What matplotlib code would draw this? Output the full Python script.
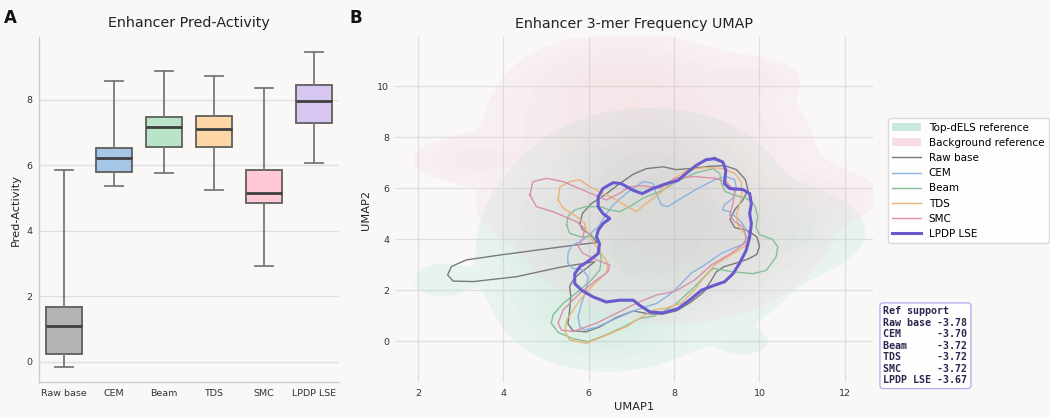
import numpy as np
import matplotlib
matplotlib.use("Agg")
import matplotlib.pyplot as plt
from matplotlib.colors import to_rgb
from matplotlib.patches import Patch
from matplotlib.lines import Line2D

plt.rcParams.update({"font.family": "DejaVu Sans"})

# ---------- data ----------
METHODS = ["Raw base", "CEM", "Beam", "TDS", "SMC", "LPDP LSE"]
BOX_FILL = ["#b4b4b4", "#a6c6e8", "#b8e4c8", "#fcd6a5", "#ffc8d4", "#d6c6f0"]
WHIS_LO = [-0.14, 5.36, 5.75, 5.24, 2.93, 6.07]
Q1 = [0.23, 5.80, 6.57, 6.57, 4.85, 7.30]
MED = [1.10, 6.23, 7.18, 7.11, 5.15, 7.97]
Q3 = [1.68, 6.53, 7.47, 7.50, 5.84, 8.46]
WHIS_HI = [5.85, 8.58, 8.88, 8.73, 8.36, 9.44]

REF_SUPPORT = [-3.78, -3.70, -3.72, -3.72, -3.72, -3.67]

# KDE fills: gaussian components (centre x, centre y, sd x, sd y, weight)
TOP_CX = [7.6, 6.4, 5.0, 10.6, 7.4, 2.55, 9.65]
TOP_CY = [3.8, 1.0, 3.5, 4.3, 6.6, 2.4, -0.05]
TOP_SX = [1.4, 0.9, 0.75, 0.9, 1.2, 0.4, 0.33]
TOP_SY = [1.6, 0.9, 1.5, 0.8, 1.1, 0.4, 0.28]
TOP_W = [1.0, 0.7, 0.35, 0.35, 0.55, 0.14, 0.12]

BG_CX = [8.0, 7.2, 6.8, 3.2, 4.6, 11.3, 9.9]
BG_CY = [5.0, 8.5, 10.3, 7.1, 5.3, 5.7, 10.3]
BG_SX = [1.5, 1.6, 1.1, 0.75, 0.7, 0.8, 0.55]
BG_SY = [1.7, 1.3, 0.8, 0.5, 0.7, 0.55, 0.45]
BG_W = [1.0, 0.55, 0.35, 0.18, 0.15, 0.2, 0.15]

# contour outlines of each method (UMAP1, UMAP2)
RAW_X = [5.79, 5.85, 6.06, 6.37, 6.72, 7.04, 7.35, 7.74, 8.05, 8.36, 8.83, 9.18, 9.46, 9.67,
         9.73, 9.61, 9.42, 9.31, 9.42, 9.73, 9.94, 10.00, 9.94, 9.73, 9.42, 9.16, 8.99, 8.85,
         8.69, 8.40, 8.05, 7.70, 7.39, 7.04, 6.64, 6.25, 5.94, 5.63, 5.51, 5.55, 5.58, 5.55,
         5.67, 5.88, 6.14, 5.32, 4.30, 3.29, 2.82, 2.69, 2.78, 3.13, 3.91, 5.71, 6.18, 6.06, 5.85]
RAW_Y = [4.61, 5.01, 5.40, 5.73, 6.18, 6.55, 6.77, 6.84, 6.73, 6.77, 6.86, 6.89, 6.73, 6.34,
         5.92, 5.53, 5.16, 4.77, 4.46, 4.33, 4.09, 3.73, 3.41, 3.22, 3.05, 2.92, 2.72, 2.33,
         1.93, 1.54, 1.19, 1.06, 1.08, 1.19, 0.93, 0.56, 0.37, 0.41, 0.69, 1.22, 1.74, 2.16,
         2.50, 2.78, 3.12, 2.90, 2.53, 2.34, 2.36, 2.60, 2.93, 3.19, 3.38, 3.78, 3.87, 4.16, 4.38]

CEM_X = [5.51, 5.51, 5.60, 5.86, 6.22, 6.37, 6.57, 6.88, 7.27, 7.50, 7.58, 7.70, 7.85, 8.17,
         8.56, 8.95, 9.22, 9.42, 9.46, 9.38, 9.18, 9.14, 9.30, 9.57, 9.77, 9.60, 9.11, 8.71,
         8.40, 8.17, 7.93, 7.60, 7.11, 6.57, 6.18, 5.90, 5.79, 5.75, 5.83, 5.94, 5.98, 5.86, 5.63]
CEM_Y = [3.06, 3.45, 3.75, 3.97, 4.49, 4.89, 5.35, 5.80, 6.26, 6.20, 5.80, 5.35, 5.28, 5.61,
         6.00, 6.33, 6.46, 6.33, 6.00, 5.61, 5.35, 5.15, 5.08, 4.69, 4.17, 3.80, 3.45, 2.99,
         2.67, 2.27, 1.88, 1.49, 1.23, 0.84, 0.55, 0.44, 0.57, 0.96, 1.49, 2.01, 2.53, 2.80, 2.86]

BEAM_X = [5.48, 5.51, 5.67, 5.94, 6.26, 6.49, 6.72, 6.96, 7.27, 7.66, 8.10, 8.50, 8.91, 9.07,
          9.11, 9.19, 9.38, 9.70, 9.88, 9.96, 9.92, 10.00, 10.30, 10.43, 10.39, 10.16, 9.85,
          9.34, 8.91, 8.79, 8.40, 8.01, 7.54, 7.19, 6.80, 6.33, 5.98, 5.63, 5.28, 5.12, 5.16,
          5.40, 5.79, 6.06, 6.26, 6.29, 6.26, 6.22, 6.10, 5.79, 5.55]
BEAM_Y = [4.56, 4.89, 5.15, 5.28, 5.28, 5.15, 5.08, 5.28, 5.61, 5.87, 6.30, 6.60, 6.77, 6.58,
          6.20, 5.88, 5.75, 5.60, 5.36, 4.90, 4.47, 4.18, 4.00, 3.70, 3.31, 2.78, 2.65,
          2.73, 2.86, 2.67, 2.01, 1.42, 0.99, 0.89, 0.55, 0.20, -0.02, 0.10, 0.35, 0.71, 1.03,
          1.49, 2.01, 2.40, 2.80, 3.19, 3.58, 3.91, 4.10, 4.10, 4.24]

TDS_X = [5.28, 5.32, 5.55, 5.79, 6.02, 6.57, 7.11, 7.35, 7.72, 8.01, 8.32, 8.71, 9.11, 9.42,
         9.57, 9.59, 9.53, 9.46, 9.49, 9.65, 9.72, 9.50, 9.26, 8.95, 8.71, 8.48, 8.17, 7.78,
         7.54, 7.20, 6.88, 6.33, 5.94, 5.55, 5.44, 5.48, 5.79, 6.14, 6.41, 6.45, 6.29, 6.10,
         5.94, 5.90, 5.71, 5.40]
TDS_Y = [5.54, 6.06, 6.26, 6.33, 6.06, 5.61, 5.08, 5.41, 5.87, 6.39, 6.72, 6.81, 6.78, 6.59,
         6.26, 5.74, 5.35, 4.95, 4.56, 4.24, 3.80, 3.55, 3.32, 2.99, 2.53, 2.01, 1.49, 1.29,
         1.23, 0.92, 0.57, 0.18, -0.08, 0.05, 0.38, 0.84, 1.62, 2.27, 2.67, 3.06, 3.45, 3.90,
         4.36, 4.63, 4.89, 5.22]

SMC_X = [4.62, 4.69, 5.01, 5.40, 5.86, 6.41, 6.72, 6.96, 7.27, 7.66, 8.01, 8.48, 8.95, 9.22,
         9.42, 9.38, 9.30, 9.42, 9.61, 9.69, 9.66, 9.34, 8.87, 8.48, 8.01, 7.60, 7.19, 6.65,
         6.18, 5.63, 5.36, 5.28, 5.40, 5.79, 6.18, 6.45, 6.49, 6.18, 5.86, 5.75, 5.86, 5.90,
         5.71, 5.16, 4.77]
SMC_Y = [5.74, 6.26, 6.39, 6.26, 5.93, 5.54, 5.80, 6.06, 6.10, 6.00, 6.39, 6.46, 6.39, 6.26,
         5.87, 5.41, 4.95, 4.69, 4.49, 4.10, 3.85, 3.45, 2.99, 2.40, 1.95, 1.82, 1.55, 1.10,
         0.71, 0.38, 0.44, 0.71, 1.23, 1.88, 2.40, 2.73, 2.99, 3.19, 3.45, 3.71, 4.04, 4.43,
         4.69, 5.08, 5.28]

LPDP_X = [8.95, 9.14, 9.21, 9.18, 9.30, 9.61, 9.77, 9.81, 9.77, 9.81, 9.77, 9.69, 9.53, 9.38,
          9.18, 8.95, 8.64, 8.36, 8.09, 7.74, 7.43, 7.19, 7.04, 6.72, 6.41, 6.10, 5.83, 5.67,
          5.67, 5.79, 6.02, 6.22, 6.25, 6.18, 6.22, 6.33, 6.49, 6.33, 6.22, 6.22, 6.33, 6.57,
          6.76, 7.04, 7.25, 7.50, 7.82, 8.09, 8.28, 8.52, 8.75]
LPDP_Y = [7.16, 7.03, 6.71, 6.18, 5.99, 5.95, 5.79, 5.40, 5.01, 4.61, 4.09, 3.57, 3.05, 2.65,
          2.33, 2.20, 2.00, 1.61, 1.28, 1.11, 1.15, 1.41, 1.61, 1.61, 1.54, 1.74, 2.00, 2.26,
          2.65, 2.92, 3.18, 3.44, 3.83, 4.09, 4.35, 4.61, 4.81, 5.01, 5.27, 5.66, 5.99, 6.22,
          6.18, 5.92, 5.79, 5.99, 6.18, 6.31, 6.58, 6.90, 7.12]

LINE_X = [RAW_X, CEM_X, BEAM_X, TDS_X, SMC_X, LPDP_X]
LINE_Y = [RAW_Y, CEM_Y, BEAM_Y, TDS_Y, SMC_Y, LPDP_Y]
LINE_COL = ["#7a7a7a", "#8db2e2", "#85bf97", "#e9b478", "#d990aa", "#6a5acd"]
LINE_W = [1.0, 1.0, 1.0, 1.0, 1.0, 2.2]

TOP_COL = "#66c2a5"
BG_COL = "#e8a0b4"
BGC = "#f9f8f6"

# ---------- figure ----------
fig = plt.figure(figsize=(10.5, 4.18), dpi=100, facecolor=BGC)
axA = fig.add_axes([0.0371, 0.0854, 0.2858, 0.8261], facecolor=BGC)
axB = fig.add_axes([0.3771, 0.0854, 0.4543, 0.8254], facecolor=BGC)

# ---------- panel A: boxplots ----------
stats = [dict(label=m, whislo=lo, q1=a, med=md, q3=b, whishi=hi, fliers=[])
         for m, lo, a, md, b, hi in zip(METHODS, WHIS_LO, Q1, MED, Q3, WHIS_HI)]
bp = axA.bxp(stats, positions=range(len(METHODS)), widths=0.72, patch_artist=True,
             showfliers=False,
             boxprops=dict(edgecolor="#5e5e5e", linewidth=1.3),
             medianprops=dict(color="#3f3f3f", linewidth=2.0),
             whiskerprops=dict(color="#787878", linewidth=1.3),
             capprops=dict(color="#787878", linewidth=1.3))
for patch, c in zip(bp["boxes"], BOX_FILL):
    patch.set_facecolor(c)
axA.set_xlim(-0.5, len(METHODS) - 0.5)
axA.set_ylim(-0.62, 9.91)
axA.set_yticks([0, 2, 4, 6, 8])
axA.yaxis.grid(True, color="#dedede", linewidth=0.9)
axA.set_axisbelow(True)
axA.tick_params(length=0, labelsize=6.8, colors="#333333", pad=5)
axA.set_ylabel("Pred-Activity", fontsize=8.2, color="#222222")
axA.set_title("Enhancer Pred-Activity", fontsize=10.3, color="#222222", pad=7)
for s in ["top", "right"]:
    axA.spines[s].set_visible(False)
for s in ["left", "bottom"]:
    axA.spines[s].set_color("#cccccc")
    axA.spines[s].set_linewidth(1.0)

# ---------- panel B: UMAP ----------
gx = np.linspace(1.3, 12.8, 320)
gy = np.linspace(-1.8, 12.1, 320)
X, Y = np.meshgrid(gx, gy)


def density(cx, cy, sx, sy, w):
    Z = np.zeros_like(X)
    for a, b, c, d, e in zip(cx, cy, sx, sy, w):
        Z += e * np.exp(-0.5 * (((X - a) / c) ** 2 + ((Y - b) / d) ** 2))
    return Z


LEVELS = [0.04, 0.08, 0.14, 0.21, 0.29, 0.38, 0.50, 0.63, 0.78, 1.0]
for Z, col, al in [(density(TOP_CX, TOP_CY, TOP_SX, TOP_SY, TOP_W), TOP_COL, 0.24),
                   (density(BG_CX, BG_CY, BG_SX, BG_SY, BG_W), BG_COL, 0.23)]:
    zmax = Z.max()
    base = np.array(to_rgb(col))
    n = len(LEVELS) - 1
    cols = [tuple(1 - (0.45 + 0.55 * i / (n - 1)) * (1 - base)) for i in range(n)]
    axB.contourf(X, Y, Z, [f * zmax * 1.0001 if f == 1.0 else f * zmax for f in LEVELS],
                 colors=cols, alpha=al, antialiased=True)

for xs, ys, c, lw in zip(LINE_X, LINE_Y, LINE_COL, LINE_W):
    axB.plot(xs + xs[:1], ys + ys[:1], color=c, linewidth=lw,
             solid_joinstyle="round", zorder=3)

axB.set_xlim(1.48, 12.66)
axB.set_ylim(-1.61, 11.92)
axB.set_xticks([2, 4, 6, 8, 10, 12])
axB.set_yticks([0, 2, 4, 6, 8, 10])
axB.grid(True, color="#dedede", linewidth=0.9)
axB.set_axisbelow(True)
axB.tick_params(length=0, labelsize=6.8, colors="#333333", pad=5)
for s in axB.spines.values():
    s.set_visible(False)
axB.set_xlabel("UMAP1", fontsize=8.2, color="#222222", labelpad=3)
axB.set_ylabel("UMAP2", fontsize=8.2, color="#222222")
axB.set_title("Enhancer 3-mer Frequency UMAP", fontsize=10.3, color="#222222", pad=7)

handles = [Patch(facecolor=TOP_COL, alpha=0.35, edgecolor="none", label="Top-dELS reference"),
           Patch(facecolor=BG_COL, alpha=0.35, edgecolor="none", label="Background reference")]
handles += [Line2D([], [], color=c, linewidth=lw, label=m)
            for m, c, lw in zip(METHODS, LINE_COL, LINE_W)]
leg = axB.legend(handles=handles, loc="upper left", bbox_to_anchor=(1.032, 0.765),
                 fontsize=7.5, frameon=True, fancybox=True, handlelength=2.7,
                 borderaxespad=0)
leg.get_frame().set_edgecolor("#d8d8d8")
leg.get_frame().set_facecolor("white")
leg.get_frame().set_alpha(0.9)

txt = "Ref support\n" + "\n".join(f"{m:<8} {v:.2f}" for m, v in zip(METHODS, REF_SUPPORT))
axB.text(1.022, -0.008, txt, transform=axB.transAxes, ha="left", va="bottom",
         family="DejaVu Sans Mono", fontweight="bold", fontsize=7.2, color="#2a2850",
         linespacing=1.18,
         bbox=dict(boxstyle="round,pad=0.35", facecolor="white", edgecolor="#b7abf0",
                   linewidth=1.0, alpha=0.95))

fig.text(0.004, 0.978, "A", fontsize=12, fontweight="bold", va="top", color="#111111")
fig.text(0.333, 0.978, "B", fontsize=12, fontweight="bold", va="top", color="#111111")

fig.savefig("out.png", dpi=100, facecolor=BGC)
